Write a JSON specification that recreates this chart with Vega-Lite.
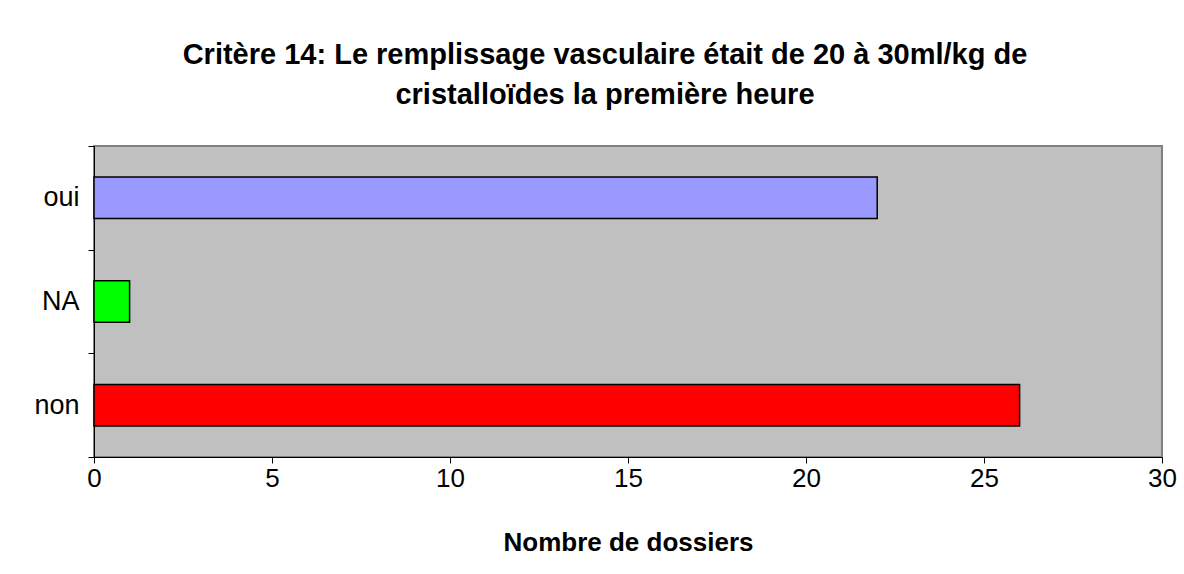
{
  "$schema": "https://vega.github.io/schema/vega-lite/v6.json",
  "width": 1068,
  "height": 311,
  "autosize": "none",
  "padding": {"left": 94, "top": 146, "right": 22, "bottom": 117},
  "background": "white",
  "title": {
    "text": ["Critère 14: Le remplissage vasculaire était de 20 à 30ml/kg de", "cristalloïdes la première heure"],
    "font": "Liberation Sans",
    "fontSize": 29,
    "fontWeight": "bold",
    "color": "black",
    "lineHeight": 40,
    "anchor": "middle",
    "dx": -23,
    "offset": 22
  },
  "data": {
    "values": [
      {"reponse": "oui", "dossiers": 22},
      {"reponse": "NA", "dossiers": 1},
      {"reponse": "non", "dossiers": 26}
    ]
  },
  "mark": {"type": "bar", "stroke": "black", "strokeWidth": 1.5, "height": {"band": 0.4}},
  "encoding": {
    "y": {
      "field": "reponse",
      "type": "nominal",
      "sort": ["oui", "NA", "non"],
      "scale": {"paddingInner": 0, "paddingOuter": 0},
      "axis": {
        "title": null,
        "tickBand": "extent",
        "tickSize": 6,
        "tickColor": "black",
        "domainColor": "black",
        "labelFont": "Liberation Sans",
        "labelFontSize": 27,
        "labelColor": "black",
        "labelPadding": 9
      }
    },
    "x": {
      "field": "dossiers",
      "type": "quantitative",
      "scale": {"domain": [0, 30]},
      "axis": {
        "title": "Nombre de dossiers",
        "values": [0, 5, 10, 15, 20, 25, 30],
        "grid": false,
        "labelFlush": false,
        "tickSize": 6,
        "tickColor": "black",
        "domainColor": "black",
        "labelFont": "Liberation Sans",
        "labelFontSize": 26,
        "labelColor": "black",
        "labelPadding": 2,
        "titleFont": "Liberation Sans",
        "titleFontSize": 26,
        "titleFontWeight": "bold",
        "titleColor": "black",
        "titlePadding": 38
      }
    },
    "color": {
      "field": "reponse",
      "type": "nominal",
      "scale": {"domain": ["oui", "NA", "non"], "range": ["#9999FF", "#00FF00", "#FF0000"]},
      "legend": null
    }
  },
  "config": {
    "view": {"fill": "#C0C0C0", "stroke": "#808080", "strokeWidth": 2}
  }
}
